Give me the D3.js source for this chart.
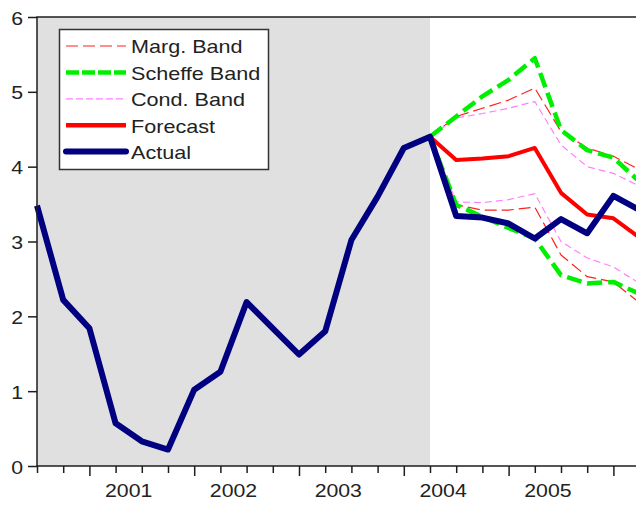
<!DOCTYPE html>
<html><head><meta charset="utf-8">
<script src="https://cdn.jsdelivr.net/npm/d3@7"></script>
<style>
html,body{margin:0;padding:0;background:#fff;}
svg{display:block;font-family:"Liberation Sans",Arial,sans-serif;}
</style></head>
<body>
<svg id="chart" width="636" height="505"></svg>
<script>
// ---- data ----
const periods = ["2000Q1","2000Q2","2000Q3","2000Q4","2001Q1","2001Q2","2001Q3","2001Q4",
  "2002Q1","2002Q2","2002Q3","2002Q4","2003Q1","2003Q2","2003Q3","2003Q4",
  "2004Q1","2004Q2","2004Q3","2004Q4","2005Q1","2005Q2","2005Q3","2005Q4"];
const actual = [3.48,2.22,1.84,0.57,0.33,0.22,1.02,1.26,2.19,1.84,1.49,1.80,
  3.02,3.60,4.25,4.40,3.34,3.32,3.24,3.04,3.30,3.11,3.61,3.42];
// forecast period: 2003Q4 (anchor) .. 2005Q4
const fcStart = 15;
const forecast    = [4.40,4.09,4.11,4.14,4.25,3.65,3.36,3.31,3.05];
const margUpper   = [4.40,4.67,4.78,4.89,5.05,4.47,4.25,4.14,3.96];
const margLower   = [4.40,3.49,3.42,3.42,3.46,2.82,2.53,2.46,2.18];
const scheffeUpper= [4.40,4.67,4.94,5.16,5.45,4.49,4.22,4.12,3.80];
const scheffeLower= [4.40,3.49,3.33,3.18,3.04,2.55,2.44,2.46,2.30];
const condUpper   = [4.40,4.65,4.71,4.78,4.87,4.29,4.00,3.91,3.74];
const condLower   = [4.40,3.53,3.52,3.56,3.64,3.00,2.78,2.66,2.44];
const yTicks = [0,1,2,3,4,5,6];
const yearLabels = ["2001","2002","2003","2004","2005"];
const legendLabels = ["Marg. Band","Scheffe Band","Cond. Band","Forecast","Actual"];

// ---- layout ----
const svg = d3.select("#chart");
const mLeft = 37, mTop = 17, mBottom = 466, step = 26.2;
const x = d3.scaleLinear().domain([0, periods.length - 1]).range([mLeft, mLeft + step*(periods.length-1)]);
const y = d3.scaleLinear().domain([0, 6]).range([mBottom, mTop]);
const mRight = x(periods.length - 1);
const axisColor = "#1e1e1e";
const textColor = "#222";
const sx = 1.12;

// shaded in-sample region
svg.append("rect").attr("x", x(0)).attr("y", y(6))
  .attr("width", x(fcStart) - x(0)).attr("height", y(0) - y(6))
  .attr("fill", "#e0e0e0");

const line = d3.line().x(d => x(d[0])).y(d => y(d[1]));
const fcPts = arr => arr.map((v,i) => [fcStart + i, v]);

const series = [
  {data: fcPts(margUpper), color:"#ff2020", w:1.2, dash:"12,5"},
  {data: fcPts(margLower), color:"#ff2020", w:1.2, dash:"12,5"},
  {data: fcPts(condUpper), color:"#ff80ff", w:1.2, dash:"7,4"},
  {data: fcPts(condLower), color:"#ff80ff", w:1.2, dash:"7,4"},
  {data: fcPts(scheffeUpper), color:"#00ee00", w:4.5, dash:"15,6"},
  {data: fcPts(scheffeLower), color:"#00ee00", w:4.5, dash:"15,6"},
  {data: fcPts(forecast), color:"#ff0000", w:4, dash:null},
  {data: actual.map((v,i)=>[i,v]), color:"#000080", w:6, dash:null}
];
series.forEach(s => {
  svg.append("path").attr("d", line(s.data)).attr("fill","none")
    .attr("stroke", s.color).attr("stroke-width", s.w)
    .attr("stroke-dasharray", s.dash).attr("stroke-linejoin","round");
});

// frame: top, left, bottom, right
svg.append("path")
  .attr("d", `M${mLeft},${mBottom}V${mTop}H${mRight}V${mBottom}Z`)
  .attr("fill","none").attr("stroke", axisColor).attr("stroke-width", 1.5);

// y axis
const yAxis = svg.append("g").attr("transform", `translate(${mLeft},0)`)
  .call(d3.axisLeft(y).tickValues(yTicks).tickSize(9).tickPadding(0).tickFormat(d3.format("d")));
yAxis.select(".domain").remove();
yAxis.selectAll("line").attr("stroke", axisColor).attr("stroke-width", 1.5);
yAxis.selectAll("text").attr("x", 0).attr("dy", null)
  .attr("transform", `translate(-14,7) scale(${sx},1)`)
  .attr("font-size", 19).attr("fill", textColor)
  .attr("font-family", '"Liberation Sans",Arial,sans-serif');

// x axis ticks
const xAxis = svg.append("g").attr("transform", `translate(0,${mBottom})`)
  .call(d3.axisBottom(x).tickValues(d3.range(periods.length)).tickSize(7).tickFormat(""));
xAxis.select(".domain").remove();
xAxis.selectAll("line").attr("stroke", axisColor).attr("stroke-width", 1.5)
  .attr("y2", d => (d % 4 === 2 ? 10 : 7));
// year labels centered between Q4 and Q1 observations
yearLabels.forEach((lab, i) => {
  svg.append("text").text(lab)
    .attr("transform", `translate(${x(3.5 + 4*i)},496.5) scale(${sx},1)`)
    .attr("text-anchor","middle").attr("font-size", 19).attr("fill", textColor);
});

// legend
const lg = svg.append("g");
lg.append("rect").attr("x", 59.5).attr("y", 29.5).attr("width", 209).attr("height", 140)
  .attr("fill","#fff").attr("stroke","#333").attr("stroke-width",1.5);
const legendStyles = [
  {color:"#ff2020", w:1.2, dash:"12,5"},
  {color:"#00ee00", w:4.5, dash:"13,3"},
  {color:"#ff80ff", w:1.2, dash:"7,3"},
  {color:"#ff0000", w:4.5, dash:null},
  {color:"#000080", w:6, dash:null, cap:"round"}
];
legendLabels.forEach((lab, i) => {
  const yy = 46 + i * 26.4;
  const st = legendStyles[i];
  lg.append("line").attr("x1", 66).attr("x2", 126).attr("y1", yy).attr("y2", yy)
    .attr("stroke", st.color).attr("stroke-width", st.w)
    .attr("stroke-dasharray", st.dash).attr("stroke-linecap", st.cap || "butt");
  lg.append("text").text(lab)
    .attr("transform", `translate(131,${yy + 7.3}) scale(1.2,1)`)
    .attr("font-size", 18).attr("fill", textColor);
});
</script>
</body></html>
